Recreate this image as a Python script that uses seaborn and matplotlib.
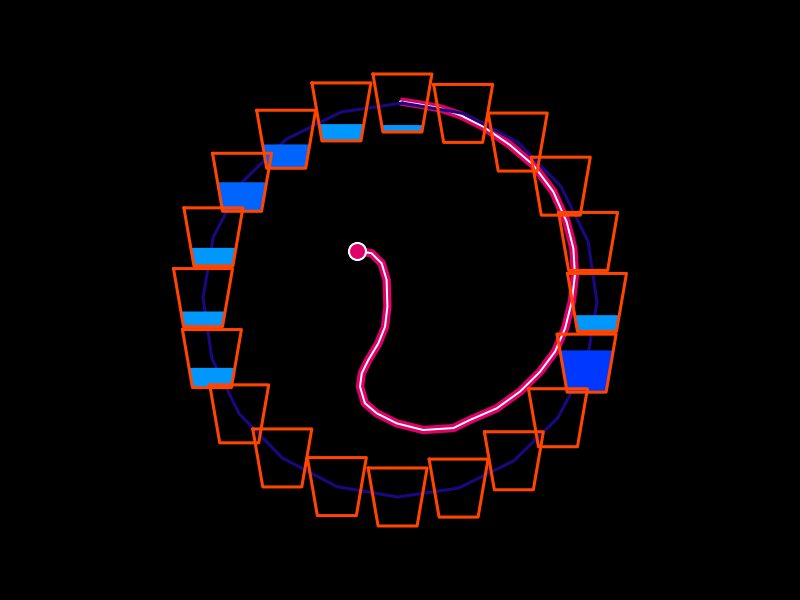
import numpy as np
import seaborn as sns
import matplotlib.pyplot as plt
import pandas as pd

# wheel state (wheel radius = 1, centre = 0,0)
n_buckets = 20
rotation_deg = 89.3
# water level in each bucket (fraction of bucket height), bucket 0 at top, going clockwise
levels = [0.12, 0.0, 0.0, 0.0, 0.0, 0.28, 0.72, 0.0, 0.0, 0.0,
          0.0, 0.0, 0.0, 0.0, 0.34, 0.26, 0.31, 0.50, 0.41, 0.29]

# trajectory (x, y) in wheel units
traj_x = [-0.217, -0.144, -0.093, -0.068, -0.064, -0.076, -0.110, -0.161, -0.194,
          -0.203, -0.178, -0.118, -0.017, 0.118, 0.271, 0.355, 0.491, 0.609,
          0.711, 0.787, 0.838, 0.872, 0.888, 0.880, 0.846, 0.778, 0.677,
          0.558, 0.423, 0.305, 0.203, 0.102, 0.0]
traj_y = [0.250, 0.237, 0.186, 0.102, -0.034, -0.136, -0.220, -0.305, -0.372,
          -0.440, -0.524, -0.575, -0.626, -0.660, -0.650, -0.609, -0.550, -0.465,
          -0.364, -0.262, -0.144, -0.009, 0.127, 0.262, 0.397, 0.550, 0.685,
          0.787, 0.880, 0.939, 0.973, 0.992, 1.008]

sns.set_style("dark")
fig = plt.figure(figsize=(8, 6), dpi=100, facecolor="black")
ax = fig.add_axes([0, 0, 1, 1])
ax.set_facecolor("black")
s = 197.0
ax.set_xlim(-400 / s, 400 / s)
ax.set_ylim(-300 / s, 300 / s)
ax.set_aspect("equal")
ax.axis("off")

pink = "#e0006c"
traj = pd.DataFrame({"x": traj_x, "y": traj_y})
sns.lineplot(data=traj, x="x", y="y", sort=False, estimator=None, ax=ax,
             color=pink, lw=6, solid_capstyle="butt", zorder=1)
sns.lineplot(data=traj, x="x", y="y", sort=False, estimator=None, ax=ax,
             color="white", lw=1.4, zorder=1.1)

ang = np.deg2rad(rotation_deg - 360.0 / n_buckets * np.arange(n_buckets))
cx, cy = np.cos(ang), np.sin(ang)
wheel = pd.DataFrame({"x": np.append(cx, cx[0]), "y": np.append(cy, cy[0])})
sns.lineplot(data=wheel, x="x", y="y", sort=False, estimator=None, ax=ax,
             color="#1a0882", lw=2.2, zorder=2)

top_hw, bot_hw, h = 29.5 / s, 19.5 / s, 58.0 / s


def water_colour(lv):
    if lv < 0.38:
        return "#0098ff"
    if lv < 0.6:
        return "#0064ff"
    return "#0038ff"


for x0, y0, lv in zip(cx, cy, levels):
    yb = y0 - h / 2
    if lv > 0:
        hw = bot_hw + (top_hw - bot_hw) * lv
        ax.fill([x0 - bot_hw, x0 + bot_hw, x0 + hw, x0 - hw],
                [yb, yb, yb + lv * h, yb + lv * h],
                color=water_colour(lv), lw=0, zorder=3)
    ax.plot([x0 - top_hw, x0 - bot_hw, x0 + bot_hw, x0 + top_hw, x0 - top_hw],
            [yb + h, yb, yb, yb + h, yb + h], color="#ff4500", lw=2.2, zorder=4)

ax.scatter([traj_x[0]], [traj_y[0]], s=150, color=pink, edgecolor="white",
           linewidth=1.5, zorder=5)

fig.savefig("out.png", dpi=100, facecolor="black")
